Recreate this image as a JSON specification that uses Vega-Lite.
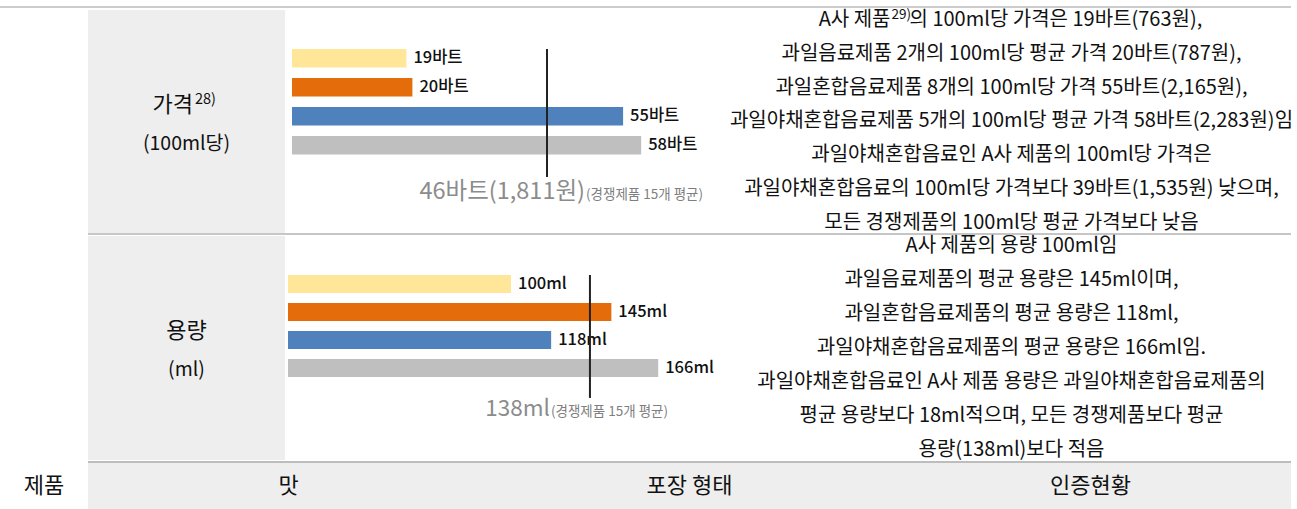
{
  "$schema": "https://vega.github.io/schema/vega-lite/v6.json",
  "padding": 0,
  "background": "white",
  "spacing": 0,
  "bounds": "full",
  "config": {
    "view": {"stroke": null},
    "font": "Noto Sans CJK KR",
    "concat": {"spacing": 0}
  },
  "vconcat": [
    {"width": 1291, "height": 6, "data": {"values": []}, "mark": "point"},
    {"width": 1291, "height": 2, "view": {"fill": "#cccccc"}, "data": {"values": []}, "mark": "point"},
    {
      "spacing": 0, "bounds": "flush",
      "hconcat": [
        {"width": 88, "height": 223, "data": {"values": []}, "mark": "point"},
        {
          "width": 197, "height": 223, "view": {"fill": "#eeeeee"},
          "data": {"values": [
            {"line": 1, "label": "가격", "part": "pre"},
            {"line": 1, "label": "28)", "part": "sup"},
            {"line": 2, "label": "(100ml당)", "part": "full"}
          ]},
          "encoding": {
            "y": {"field": "line", "type": "quantitative", "scale": {"domain": [-1.4359, 4.282], "reverse": true, "nice": false, "zero": false}, "axis": null},
            "text": {"field": "label"}
          },
          "layer": [
            {"transform": [{"filter": "datum.part == 'pre'"}], "mark": {"type": "text", "align": "right", "dx": 6.5, "fontSize": 22, "color": "#111111"}},
            {"transform": [{"filter": "datum.part == 'sup'"}], "mark": {"type": "text", "align": "left", "dx": 8.5, "dy": -5, "fontSize": 14.5, "color": "#111111"}},
            {"transform": [{"filter": "datum.part == 'full'"}], "mark": {"type": "text", "fontSize": 19.5, "color": "#111111"}}
          ]
        },
        {
          "width": 447, "height": 223,
          "data": {"values": [
            {"item": "A사 제품", "value": 19, "label": "19바트"},
            {"item": "과일음료", "value": 20, "label": "20바트"},
            {"item": "과일혼합음료", "value": 55, "label": "55바트"},
            {"item": "과일야채혼합음료", "value": 58, "label": "58바트"}
          ]},
          "encoding": {
            "y": {"field": "item", "type": "nominal", "scale": {"domain": ["(위 여백)", "A사 제품", "과일음료", "과일혼합음료", "과일야채혼합음료", "경쟁제품 평균", "(아래 여백)"], "paddingInner": 0.362, "paddingOuter": 0.526, "align": 0.328, "round": false}, "axis": null}
          },
          "layer": [
            {
              "mark": {"type": "bar"},
              "encoding": {
                "x": {"field": "value", "type": "quantitative", "scale": {"domain": [-1.163, 73.09], "nice": false}, "axis": null},
                "x2": {"datum": 0},
                "color": {"field": "item", "type": "nominal", "scale": {"domain": ["A사 제품", "과일음료", "과일혼합음료", "과일야채혼합음료"], "range": ["#FFE699", "#E46C0A", "#4F81BD", "#BFBFBF"]}, "legend": null}
              }
            },
            {
              "mark": {"type": "text", "align": "left", "dx": 7, "fontSize": 16.5, "fontWeight": 500, "color": "#111111"},
              "encoding": {
                "x": {"field": "value", "type": "quantitative"},
                "text": {"field": "label"}
              }
            },
            {
              "data": {"values": [{"item": "경쟁제품 평균", "linePos": 42.36, "main": "46바트(1,811원)", "note": "(경쟁제품 15개 평균)"}]},
              "layer": [
                {
                  "mark": {"type": "rule", "color": "#222222", "strokeWidth": 2},
                  "encoding": {
                    "x": {"field": "linePos", "type": "quantitative"},
                    "y": {"datum": "A사 제품", "type": "nominal", "bandPosition": 0},
                    "y2": {"datum": "경쟁제품 평균", "bandPosition": 0.65}
                  }
                },
                {
                  "mark": {"type": "text", "align": "right", "baseline": "alphabetic", "dx": 38, "dy": 24.75, "fontSize": 23.5, "color": "#8c8c8c"},
                  "encoding": {"x": {"field": "linePos", "type": "quantitative"}, "text": {"field": "main"}}
                },
                {
                  "mark": {"type": "text", "align": "left", "baseline": "alphabetic", "dx": 39, "dy": 24.75, "fontSize": 13.5, "color": "#7f7f7f"},
                  "encoding": {"x": {"field": "linePos", "type": "quantitative"}, "text": {"field": "note"}}
                }
              ]
            }
          ]
        },
        {
          "width": 559, "height": 223,
          "data": {"values": [
            {"line": 1, "part": "pre", "text": "A사 제품"},
            {"line": 1, "part": "sup", "text": "29)"},
            {"line": 1, "part": "post", "text": "의 100ml당 가격은 19바트(763원),"},
            {"line": 2, "part": "full", "text": "과일음료제품 2개의 100ml당 평균 가격 20바트(787원),"},
            {"line": 3, "part": "full", "text": "과일혼합음료제품 8개의 100ml당 가격 55바트(2,165원),"},
            {"line": 4, "part": "full", "text": "과일야채혼합음료제품 5개의 100ml당 평균 가격 58바트(2,283원)임"},
            {"line": 5, "part": "full", "text": "과일야채혼합음료인 A사 제품의 100ml당 가격은"},
            {"line": 6, "part": "full", "text": "과일야채혼합음료의 100ml당 가격보다 39바트(1,535원) 낮으며,"},
            {"line": 7, "part": "full", "text": "모든 경쟁제품의 100ml당 평균 가격보다 낮음"}
          ]},
          "encoding": {
            "y": {"field": "line", "type": "quantitative", "scale": {"domain": [0.7041, 7.3017], "reverse": true, "nice": false, "zero": false}, "axis": null},
            "text": {"field": "text"}
          },
          "layer": [
            {"transform": [{"filter": "datum.part == 'full'"}], "mark": {"type": "text", "fontSize": 20, "color": "#111111"}},
            {"transform": [{"filter": "datum.part == 'pre'"}], "mark": {"type": "text", "align": "right", "dx": -121, "fontSize": 20, "color": "#111111"}},
            {"transform": [{"filter": "datum.part == 'sup'"}], "mark": {"type": "text", "align": "left", "dx": -120, "dy": -5, "fontSize": 13.5, "color": "#111111"}},
            {"transform": [{"filter": "datum.part == 'post'"}], "mark": {"type": "text", "align": "left", "dx": -102, "fontSize": 20, "color": "#111111"}}
          ]
        }
      ]
    },
    {
      "spacing": 0, "bounds": "flush",
      "hconcat": [
        {"width": 88, "height": 2, "data": {"values": []}, "mark": "point"},
        {"width": 1203, "height": 2, "view": {"fill": "#c6c6c6"}, "data": {"values": []}, "mark": "point"}
      ]
    },
    {
      "spacing": 0, "bounds": "flush",
      "hconcat": [
        {"width": 88, "height": 224, "data": {"values": []}, "mark": "point"},
        {
          "width": 197, "height": 224, "view": {"fill": "#eeeeee"},
          "data": {"values": [{"line": 1, "label": "용량"}, {"line": 2, "label": "(ml)"}]},
          "mark": {"type": "text", "color": "#111111"},
          "encoding": {
            "y": {"field": "line", "type": "quantitative", "scale": {"domain": [-1.4359, 4.3077], "reverse": true, "nice": false, "zero": false}, "axis": null},
            "size": {"field": "line", "type": "ordinal", "scale": {"domain": [1, 2], "range": [22, 19.5]}, "legend": null},
            "text": {"field": "label"}
          }
        },
        {
          "width": 447, "height": 224,
          "data": {"values": [
            {"item": "A사 제품", "value": 100, "label": "100ml"},
            {"item": "과일음료", "value": 145, "label": "145ml"},
            {"item": "과일혼합음료", "value": 118, "label": "118ml"},
            {"item": "과일야채혼합음료", "value": 166, "label": "166ml"}
          ]},
          "encoding": {
            "y": {"field": "item", "type": "nominal", "scale": {"domain": ["(위 여백)", "A사 제품", "과일음료", "과일혼합음료", "과일야채혼합음료", "경쟁제품 평균", "(아래 여백)"], "paddingInner": 0.357, "paddingOuter": 0.679, "align": 0.289, "round": false}, "axis": null}
          },
          "layer": [
            {
              "mark": {"type": "bar"},
              "encoding": {
                "x": {"field": "value", "type": "quantitative", "scale": {"domain": [-1.345, 199.1], "nice": false}, "axis": null},
                "x2": {"datum": 0},
                "color": {"field": "item", "type": "nominal", "scale": {"domain": ["A사 제품", "과일음료", "과일혼합음료", "과일야채혼합음료"], "range": ["#FFE699", "#E46C0A", "#4F81BD", "#BFBFBF"]}, "legend": null}
              }
            },
            {
              "mark": {"type": "text", "align": "left", "dx": 7, "fontSize": 16.5, "fontWeight": 500, "color": "#111111"},
              "encoding": {
                "x": {"field": "value", "type": "quantitative"},
                "text": {"field": "label"}
              }
            },
            {
              "data": {"values": [{"item": "경쟁제품 평균", "linePos": 135.4, "main": "138ml", "note": "(경쟁제품 15개 평균)"}]},
              "layer": [
                {
                  "mark": {"type": "rule", "color": "#222222", "strokeWidth": 2},
                  "encoding": {
                    "x": {"field": "linePos", "type": "quantitative"},
                    "y": {"datum": "A사 제품", "type": "nominal", "bandPosition": 0},
                    "y2": {"datum": "경쟁제품 평균", "bandPosition": 0.61}
                  }
                },
                {
                  "mark": {"type": "text", "align": "right", "baseline": "alphabetic", "dx": -40, "dy": 20, "fontSize": 22.5, "color": "#8c8c8c"},
                  "encoding": {"x": {"field": "linePos", "type": "quantitative"}, "text": {"field": "main"}}
                },
                {
                  "mark": {"type": "text", "align": "left", "baseline": "alphabetic", "dx": -39, "dy": 20, "fontSize": 13.5, "color": "#7f7f7f"},
                  "encoding": {"x": {"field": "linePos", "type": "quantitative"}, "text": {"field": "note"}}
                }
              ]
            }
          ]
        },
        {
          "width": 559, "height": 224,
          "data": {"values": [
            {"line": 1, "text": "A사 제품의 용량 100ml임"},
            {"line": 2, "text": "과일음료제품의 평균 용량은 145ml이며,"},
            {"line": 3, "text": "과일혼합음료제품의 평균 용량은 118ml,"},
            {"line": 4, "text": "과일야채혼합음료제품의 평균 용량은 166ml임."},
            {"line": 5, "text": "과일야채혼합음료인 A사 제품 용량은 과일야채혼합음료제품의"},
            {"line": 6, "text": "평균 용량보다 18ml적으며, 모든 경쟁제품보다 평균"},
            {"line": 7, "text": "용량(138ml)보다 적음"}
          ]},
          "mark": {"type": "text", "fontSize": 20, "color": "#111111"},
          "encoding": {
            "y": {"field": "line", "type": "quantitative", "scale": {"domain": [0.7073, 7.2842], "reverse": true, "nice": false, "zero": false}, "axis": null},
            "text": {"field": "text"}
          }
        }
      ]
    },
    {
      "spacing": 0, "bounds": "flush",
      "hconcat": [
        {"width": 88, "height": 2, "data": {"values": []}, "mark": "point"},
        {"width": 1203, "height": 2, "view": {"fill": "#bdbdbd"}, "data": {"values": []}, "mark": "point"}
      ]
    },
    {
      "spacing": 0, "bounds": "flush",
      "hconcat": [
        {
          "width": 88, "height": 46,
          "data": {"values": [{"label": "제품"}]},
          "mark": {"type": "text", "fontSize": 22, "color": "#111111"},
          "encoding": {"text": {"field": "label"}}
        },
        {
          "width": 1203, "height": 46, "view": {"fill": "#eeeeee"},
          "data": {"values": [{"col": "맛"}, {"col": "포장 형태"}, {"col": "인증현황"}]},
          "mark": {"type": "text", "fontSize": 22, "color": "#111111"},
          "encoding": {
            "x": {"field": "col", "type": "nominal", "scale": {"domain": ["맛", "포장 형태", "인증현황"]}, "axis": null},
            "text": {"field": "col"}
          }
        }
      ]
    },
    {
      "spacing": 0, "bounds": "flush",
      "hconcat": [
        {"width": 88, "height": 2, "data": {"values": []}, "mark": "point"},
        {"width": 1203, "height": 2, "view": {"fill": "#dddddd"}, "data": {"values": []}, "mark": "point"}
      ]
    }
  ]
}
